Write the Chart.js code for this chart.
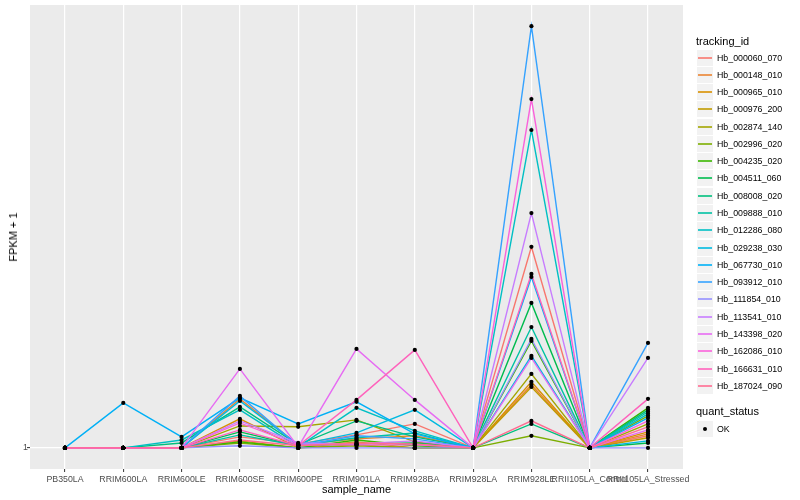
<!DOCTYPE html>
<html>
<head>
<meta charset="utf-8">
<script src="https://cdn.jsdelivr.net/npm/chart.js@4.4.1/dist/chart.umd.min.js"></script>
<style>
html,body{margin:0;padding:0;background:#fff;}
#wrap{position:relative;width:800px;height:500px;overflow:hidden;font-family:"Liberation Sans",Arial,Helvetica,sans-serif;}
#c{position:absolute;left:0;top:0;}
.key{position:absolute;width:16px;height:16px;background:#F2F2F2;border:1px solid #fff;}
.keyline{position:absolute;left:1px;right:1px;top:7px;height:2px;opacity:0.8;}
.keypt{position:absolute;left:6px;top:6px;width:4px;height:4px;border-radius:50%;background:#000;}
.lab{position:absolute;font-size:8.8px;line-height:12px;height:12px;color:#000;white-space:nowrap;}
.ttl{position:absolute;font-size:11px;line-height:14px;height:14px;color:#000;white-space:nowrap;}
</style>
</head>
<body>
<div id="wrap">
<canvas id="c" width="800" height="500"></canvas>
<div class="ttl" style="left:356.5px;top:482px;transform:translateX(-50%);">sample_name</div>
<div class="ttl" style="left:13px;top:237px;transform:translate(-50%,-50%) rotate(-90deg);">FPKM + 1</div>
<div id="legend"></div>
</div>
<script>
// ---- data ----
const categories = ["PB350LA","RRIM600LA","RRIM600LE","RRIM600SE","RRIM600PE","RRIM901LA","RRIM928BA","RRIM928LA","RRIM928LE","RRII105LA_Control","RRII105LA_Stressed"];
const trackingIds = ["Hb_000060_070","Hb_000148_010","Hb_000965_010","Hb_000976_200","Hb_002874_140","Hb_002996_020","Hb_004235_020","Hb_004511_060","Hb_008008_020","Hb_009888_010","Hb_012286_080","Hb_029238_030","Hb_067730_010","Hb_093912_010","Hb_111854_010","Hb_113541_010","Hb_143398_020","Hb_162086_010","Hb_166631_010","Hb_187024_090"];
const quantStatus = ["OK"];
const yTicks = [1];

// FPKM + 1 per sample (order of categories)
const Hb_000060_070 = [1, 1, 1,     1.059, 1.021, 1.070, 1.133, 1, 2.850, 1, 1.065];
const Hb_000148_010 = [1, 1, 1,     1.291, 1.016, 1.048, 1.065, 1, 1.389, 1, 1.076];
const Hb_000965_010 = [1, 1, 1,     1.163, 1,     1.016, 1,     1, 1.411, 1, 1.087];
const Hb_000976_200 = [1, 1, 1,     1.037, 1,     1.032, 1,     1, 1.374, 1, 1.054];
const Hb_002874_140 = [1, 1, 1,     1.121, 1.116, 1.157, 1.032, 1, 1.470, 1, 1.133];
const Hb_002996_020 = [1, 1, 1,     1.026, 1,     1.011, 1,     1, 1.065, 1, 1.182];
const Hb_004235_020 = [1, 1, 1,     1.032, 1,     1.042, 1.011, 1, 1.746, 1, 1.232];
const Hb_004511_060 = [1, 1, 1,     1.087, 1.011, 1.021, 1.026, 1, 2.128, 1, 1.026];
const Hb_008008_020 = [1, 1, 1.026, 1.238, 1.016, 1.151, 1.059, 1, 1.133, 1, 1.219];
const Hb_009888_010 = [1, 1, 1,     1.070, 1.011, 1.054, 1.081, 1, 1.877, 1, 1.207];
const Hb_012286_080 = [1, 1, 1.042, 1.219, 1.005, 1.232, 1.093, 1, 5.240, 1, 1.194];
const Hb_029238_030 = [1, 1, 1,     1.277, 1.016, 1.081, 1.219, 1, 1.615, 1, 1.037];
const Hb_067730_010 = [1, 1.264, 1.059, 1.298, 1.133, 1.271, 1.076, 1, 2.437, 1, 1.169];
const Hb_093912_010 = [1, 1, 1,     1.311, 1.011, 1.065, 1.048, 1, 9.000, 1, 1.728];
const Hb_111854_010 = [1, 1, 1,     1.011, 1,     1,     1,     1, 1.764, 1, 1];
const Hb_113541_010 = [1, 1, 1,     1.151, 1.026, 1.021, 1.037, 1, 3.399, 1, 1.598];
const Hb_143398_020 = [1, 1, 1,     1.509, 1.005, 1.675, 1.284, 1, 1.598, 1, 1.098];
const Hb_162086_010 = [1, 1, 1,     1.139, 1.016, 1.016, 1.016, 1, 6.155, 1, 1.151];
const Hb_166631_010 = [1, 1, 1,     1.098, 1.011, 1.284, 1.666, 1, 2.475, 1, 1.291];
const Hb_187024_090 = [1, 1, 1,     1.042, 1.011, 1.026, 1.021, 1, 1.151, 1, 1.116];

const series = [Hb_000060_070,Hb_000148_010,Hb_000965_010,Hb_000976_200,Hb_002874_140,Hb_002996_020,Hb_004235_020,Hb_004511_060,Hb_008008_020,Hb_009888_010,Hb_012286_080,Hb_029238_030,Hb_067730_010,Hb_093912_010,Hb_111854_010,Hb_113541_010,Hb_143398_020,Hb_162086_010,Hb_166631_010,Hb_187024_090];

// ---- styles ----
const palette = ["#F8766D","#EA8331","#D89000","#C09B00","#A3A500","#7CAE00","#39B600","#00BB4E","#00BF7D","#00C1A3","#00BFC4","#00BAE0","#00B0F6","#35A2FF","#9590FF","#C77CFF","#E76BF3","#FA62DB","#FF62BC","#FF6C91"];
const FONT = "'Liberation Sans', Arial, Helvetica, sans-serif";

const datasets = series.map((s, k) => ({
  type: 'line',
  label: trackingIds[k],
  data: s.map((v, i) => ({x: i, y: v})),
  borderColor: palette[k],
  borderWidth: 1.4,
  pointRadius: 0,
  tension: 0,
  fill: false,
  order: series.length - k
}));
const pointData = [];
series.forEach(s => s.forEach((v, i) => pointData.push({x: i, y: v})));
datasets.push({
  type: 'scatter',
  label: 'quant_status',
  data: pointData,
  pointRadius: 2.1,
  pointBackgroundColor: '#000',
  pointBorderWidth: 0,
  showLine: false,
  order: -1
});

const panelBg = {
  id: 'panelBg',
  beforeDraw(chart) {
    const {ctx, chartArea: a} = chart;
    ctx.save();
    ctx.fillStyle = '#EBEBEB';
    ctx.fillRect(a.left, a.top, a.right - a.left, a.bottom - a.top);
    ctx.restore();
  }
};

new Chart(document.getElementById('c'), {
  type: 'line',
  data: {datasets},
  plugins: [panelBg],
  options: {
    responsive: false,
    animation: false,
    devicePixelRatio: 1,
    layout: {padding: {left: 0, right: 117, top: 5, bottom: 0}},
    plugins: {legend: {display: false}, tooltip: {enabled: false}},
    scales: {
      x: {
        type: 'linear',
        min: -0.6, max: 10.6,
        afterBuildTicks: (sc) => { sc.ticks = categories.map((c, i) => ({value: i})); },
        afterFit: (sc) => { sc.height = 31; },
        ticks: {
          autoSkip: false, maxRotation: 0, minRotation: 0, padding: 2,
          color: '#4D4D4D', font: {family: FONT, size: 8.8},
          callback: (v) => categories[v]
        },
        grid: {color: '#FFFFFF', lineWidth: 1.2, tickColor: '#333333', tickLength: 3, tickWidth: 1, drawTicks: true},
        border: {display: false}
      },
      y: {
        type: 'logarithmic',
        min: 0.8958, max: 10.05,
        afterBuildTicks: (sc) => { sc.ticks = yTicks.map(v => ({value: v})); },
        afterFit: (sc) => { sc.width = 30; },
        ticks: {
          padding: -1, color: '#4D4D4D', font: {family: FONT, size: 8.8},
          callback: (v) => String(v)
        },
        grid: {color: '#FFFFFF', lineWidth: 1.2, tickColor: '#333333', tickLength: 3, tickWidth: 1, drawTicks: true},
        border: {display: false}
      }
    }
  }
});

// ---- legend (HTML) ----
const lg = document.getElementById('legend');
function add(html){ lg.insertAdjacentHTML('beforeend', html); }
add(`<div class="ttl" style="left:696px;top:33.5px;">tracking_id</div>`);
trackingIds.forEach((id, i) => {
  const top = Math.round(48.5 + 17.28 * i);
  add(`<div class="key" style="left:696px;top:${top}px;"><div class="keyline" style="background:${palette[i]}"></div></div>`);
  add(`<div class="lab" style="left:717px;top:${top + 3}px;">${id}</div>`);
});
add(`<div class="ttl" style="left:696px;top:404px;">quant_status</div>`);
quantStatus.forEach((q, i) => {
  const top = Math.round(419.5 + 17.28 * i);
  add(`<div class="key" style="left:696px;top:${top}px;"><div class="keypt"></div></div>`);
  add(`<div class="lab" style="left:717px;top:${top + 3}px;">${q}</div>`);
});
</script>
</body>
</html>
